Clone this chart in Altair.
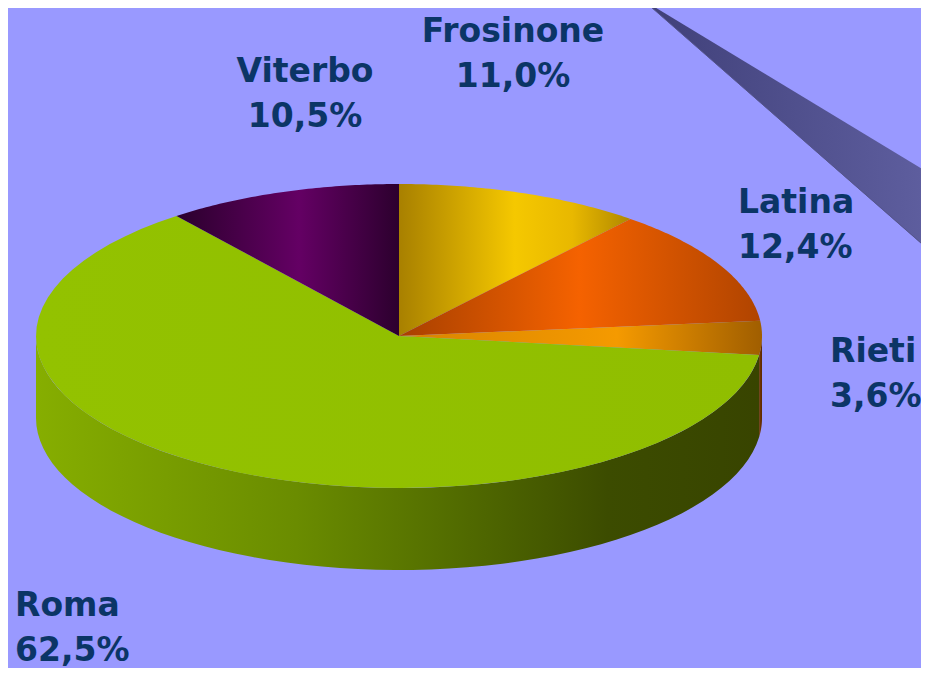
import altair as alt
import pandas as pd

# ---- data -------------------------------------------------------------
provinces = ["Frosinone", "Latina", "Rieti", "Roma", "Viterbo"]
shares = [11.0, 12.4, 3.6, 62.5, 10.5]

df = pd.DataFrame({"name": provinces, "share": shares, "idx": list(range(len(provinces)))})

# ---- layout / style constants ----------------------------------------
W, H = 913, 660
CX, CY = 391, 328          # centre of the pie top (plot px)
RX, RY = 363, 152          # ellipse radii (px)
DEPTH = 82 / RY            # side height in ellipse units
N = 60                     # arc resolution

XDOM = [-CX / RX, (W - CX) / RX]
YDOM = [-(H - CY) / RY, CY / RY]

BG = "#9999FF"
TEXT = "#0B3566"


def grad(*stops):
    return {
        "gradient": "linear",
        "x1": 0, "y1": 0, "x2": 1, "y2": 0,
        "stops": [{"offset": o, "color": c} for o, c in stops],
    }


TOP_FILL = {
    "Frosinone": grad((0, "#A88000"), (0.5, "#F5C800"), (0.75, "#E8B800"), (1, "#B08800")),
    "Latina": grad((0, "#A84000"), (0.5, "#F56200"), (1, "#B04400")),
    "Rieti": grad((0, "#D88400"), (0.6, "#F59A00"), (1, "#A05E00")),
    "Roma": grad((0, "#93C200"), (1, "#90BE00")),
    "Viterbo": grad((0, "#2A002C"), (0.55, "#640064"), (1, "#2C002E")),
}
SIDE_FILL = {
    "Frosinone": grad((0, "#806000"), (1, "#604800")),
    "Latina": grad((0, "#803000"), (1, "#602400")),
    "Rieti": grad((0, "#7A3A00"), (1, "#5A2800")),
    "Roma": grad((0, "#86AE00"), (0.36, "#6A8C00"), (0.58, "#526C00"),
                 (0.79, "#3C4C00"), (1, "#384400")),
    "Viterbo": grad((0, "#200020"), (1, "#200020")),
}
LABEL_POS = {  # (x, y of first line centre, align), plot px
    "Frosinone": (505, 24, "center"),
    "Viterbo": (297, 64, "center"),
    "Latina": (730, 195, "left"),
    "Rieti": (822, 344, "left"),
    "Roma": (7, 598, "left"),
}

xenc = alt.X("x:Q", scale=alt.Scale(domain=XDOM, nice=False, zero=False), axis=None)
yenc = alt.Y("y:Q", scale=alt.Scale(domain=YDOM, nice=False, zero=False), axis=None)

base = (
    alt.Chart(df)
    .transform_window(cum="sum(share)", sort=[alt.SortField("idx")], frame=[None, 0])
    .transform_joinaggregate(total="sum(share)")
    .transform_calculate(
        a0="2*PI*(datum.cum - datum.share)/datum.total",
        a1="2*PI*datum.cum/datum.total",
    )
)

layers = []

# decorative horn in the top-right corner
deco = alt.Chart(pd.DataFrame({"d": [0]})).mark_arc(
    theta=2.115, theta2=2.29, radius=480,
    fill=grad((0, "#3F3F78"), (1, "#6C6CB0")),
).encode(x=alt.value(635), y=alt.value(-8))
layers.append(deco)
layers.append(
    alt.Chart(pd.DataFrame({"d": [0]})).mark_rule(color="#55558C", strokeWidth=1)
    .encode(x=alt.value(635), y=alt.value(-8), x2=alt.value(921), y2=alt.value(242))
)

# side faces (front half only)
for p in provinces:
    side = (
        base.transform_filter(alt.datum.name == p)
        .transform_calculate(s0="max(datum.a0, PI/2)", s1="min(datum.a1, 3*PI/2)")
        .transform_filter("datum.s0 < datum.s1")
        .transform_calculate(k=f"sequence(0, {2 * N + 2})")
        .transform_flatten(["k"])
        .transform_calculate(
            t=f"datum.k <= {N} ? datum.s0 + (datum.s1 - datum.s0)*datum.k/{N}"
              f" : datum.s1 - (datum.s1 - datum.s0)*(datum.k - {N} - 1)/{N}"
        )
        .transform_calculate(
            x="sin(datum.t)",
            y=f"cos(datum.t) - (datum.k <= {N} ? 0 : {DEPTH})",
        )
        .mark_line(fill=SIDE_FILL[p], strokeWidth=0)
        .encode(x=xenc, y=yenc, order=alt.Order("k:Q"))
    )
    layers.append(side)

# top faces
for p in provinces:
    top = (
        base.transform_filter(alt.datum.name == p)
        .transform_calculate(k=f"sequence(-1, {N + 1})")
        .transform_flatten(["k"])
        .transform_calculate(t=f"datum.a0 + (datum.a1 - datum.a0)*max(datum.k, 0)/{N}")
        .transform_calculate(
            x="datum.k < 0 ? 0 : sin(datum.t)",
            y="datum.k < 0 ? 0 : cos(datum.t)",
        )
        .mark_line(fill=TOP_FILL[p], strokeWidth=0)
        .encode(x=xenc, y=yenc, order=alt.Order("k:Q"))
    )
    layers.append(top)

# labels
for p in provinces:
    lx, ly, al = LABEL_POS[p]
    lab = (
        alt.Chart(df)
        .transform_filter(alt.datum.name == p)
        .transform_calculate(
            label="datum.name + '\\n' + replace(format(datum.share, '.1f'), '.', ',') + '%'"
        )
        .mark_text(
            lineBreak="\n", font="DejaVu Sans", fontWeight="bold", fontSize=33,
            lineHeight=45, color=TEXT, align=al, baseline="middle",
        )
        .encode(x=alt.value(lx), y=alt.value(ly), text="label:N")
    )
    layers.append(lab)

chart = (
    alt.layer(*layers)
    .properties(width=W, height=H, background=BG, padding=0,
                autosize=alt.AutoSizeParams(type="none"))
    .configure_view(strokeWidth=0)
)

chart.save("out.html", embed_options={"renderer": "svg", "actions": False})
